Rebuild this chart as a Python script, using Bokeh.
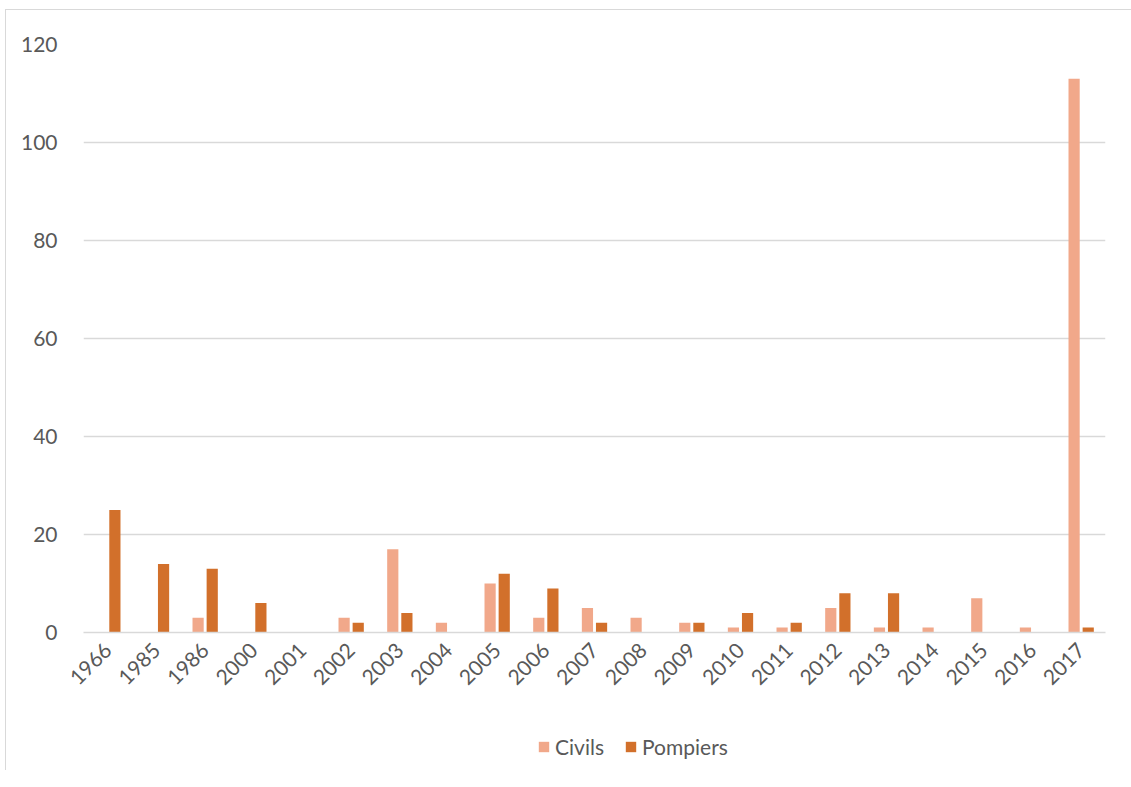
import math
from bokeh.plotting import figure
from bokeh.layouts import column
from bokeh.models import ColumnDataSource, FactorRange, Legend, LegendItem
from bokeh.transform import dodge
from bokeh.embed import file_html
from bokeh.resources import INLINE

years = ["1966", "1985", "1986", "2000", "2001", "2002", "2003", "2004", "2005", "2006",
         "2007", "2008", "2009", "2010", "2011", "2012", "2013", "2014", "2015", "2016", "2017"]
civils = [0, 0, 3, 0, 0, 3, 17, 2, 10, 3, 5, 3, 2, 1, 1, 5, 1, 1, 7, 1, 113]
pompiers = [25, 14, 13, 6, 0, 2, 4, 0, 12, 9, 2, 0, 2, 4, 2, 8, 8, 0, 0, 0, 1]
y_ticks = [0, 20, 40, 60, 80, 100, 120]
series_names = ["Civils", "Pompiers"]

FONT = "Lato"
TXT = "#595959"
GRID = "#d9d9d9"
C_CIV = "#F1A88A"
C_POM = "#D2702B"

src = ColumnDataSource(dict(year=years, civils=civils, pompiers=pompiers))

p = figure(width=1125, height=710, x_range=FactorRange(*years, range_padding=0),
           y_range=(0, 120), output_backend="svg", toolbar_location=None,
           min_border_left=77, min_border_right=26, min_border_top=34, min_border_bottom=88)
p.outline_line_color = None
p.background_fill_color = "white"

p.vbar(x=dodge("year", -0.145, range=p.x_range), top="civils", width=0.23,
       source=src, fill_color=C_CIV, line_color=None)
p.vbar(x=dodge("year", 0.145, range=p.x_range), top="pompiers", width=0.23,
       source=src, fill_color=C_POM, line_color=None)

p.xgrid.grid_line_color = None
p.ygrid.grid_line_color = GRID
p.ygrid.grid_line_width = 1.3
p.yaxis.ticker = y_ticks
p.yaxis.axis_line_color = None
p.yaxis.major_tick_line_color = None
p.yaxis.minor_tick_line_color = None
p.yaxis.major_label_standoff = 20
p.xaxis.axis_line_color = GRID
p.xaxis.axis_line_width = 1.3
p.xaxis.major_tick_line_color = None
p.xaxis.minor_tick_line_color = None
p.xaxis.major_label_orientation = math.pi / 4
p.xaxis.major_label_standoff = 8
for ax in (p.xaxis, p.yaxis):
    ax.major_label_text_font = FONT
    ax.major_label_text_font_size = "21px"
    ax.major_label_text_color = TXT

# legend strip below the chart: same series drawn out of view, used only for legend swatches
lf = figure(width=1125, height=50, x_range=FactorRange(*years), y_range=(500, 501),
            output_backend="svg", toolbar_location=None,
            x_axis_location=None, y_axis_location=None, min_border=0)
lf.outline_line_color = None
lf.xgrid.visible = False
lf.ygrid.visible = False
lr1 = lf.vbar(x="year", top="civils", width=0.23, source=src, fill_color=C_CIV, line_color=None)
lr2 = lf.vbar(x="year", top="pompiers", width=0.23, source=src, fill_color=C_POM, line_color=None)

legend = Legend(items=[LegendItem(label=series_names[0], renderers=[lr1]),
                       LegendItem(label=series_names[1], renderers=[lr2])],
                orientation="horizontal", location=(454, 11))
legend.label_text_font = FONT
legend.label_text_font_size = "21px"
legend.label_text_color = TXT
legend.glyph_width = 13
legend.glyph_height = 13
legend.spacing = 20
legend.label_standoff = 5
legend.border_line_color = None
legend.background_fill_alpha = 0
legend.padding = 8
legend.margin = 0
lf.add_layout(legend, "center")

layout = column(p, lf, spacing=0)
layout.styles = {"margin-left": "5px", "margin-top": "9px",
                 "border-left": "1px solid #d9d9d9", "border-top": "1px solid #d9d9d9"}

open("out.html", "w").write(file_html(layout, INLINE))
